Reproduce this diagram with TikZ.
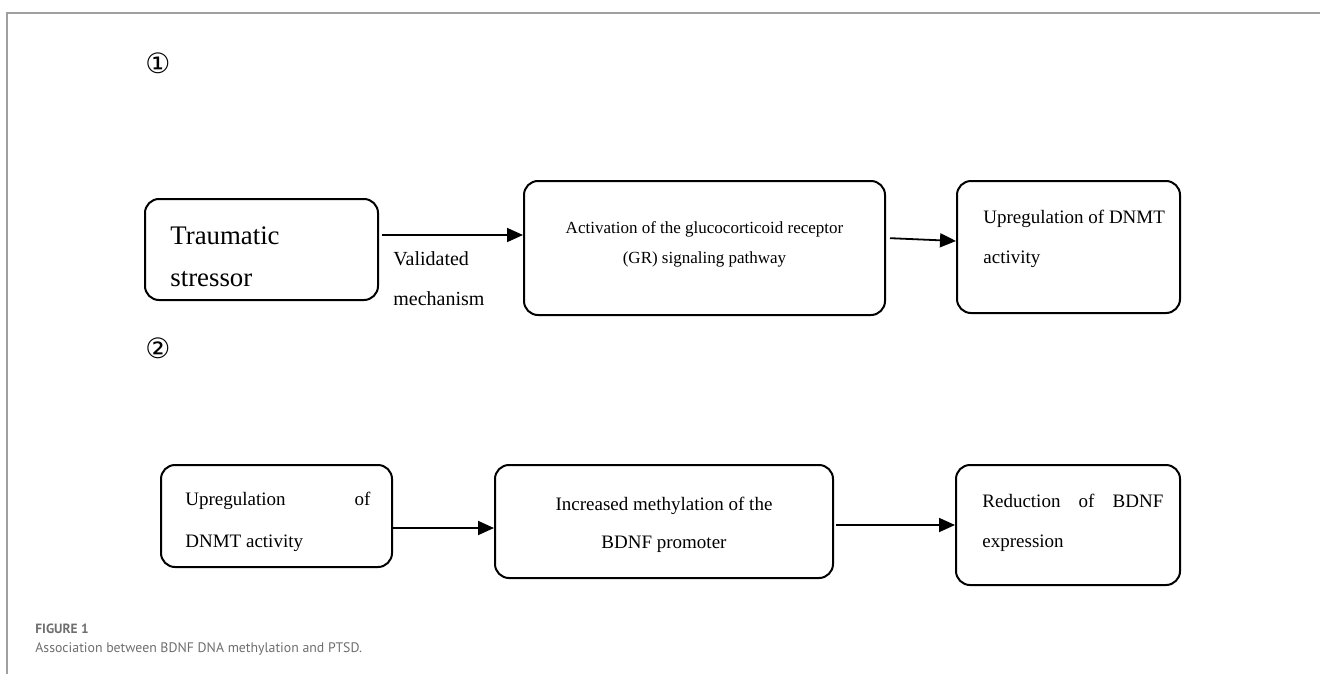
\documentclass[tikz,border=0pt]{standalone}
\usepackage{fontspec}
\setmainfont{Liberation Serif}
\newfontfamily\capfont{PT Sans}
\newfontfamily\numfont{DejaVu Sans}
\usepackage{tikz}
\usetikzlibrary{arrows.meta}
\usetikzlibrary{calc}
\definecolor{framegray}{RGB}{160,160,160}
\definecolor{capgray}{RGB}{110,110,110}

\begin{document}
\begin{tikzpicture}[x=0.5pt,y=-0.5pt,
	box/.style={draw,line width=1pt,rounded corners=7pt,inner sep=0pt},
	arr/.style={-{Triangle[length=8pt,width=7pt]},line width=0.9pt},
	txt/.style={inner sep=0pt,anchor=base west,align=left}]
	\useasboundingbox (0,0) rectangle (1320,674);
	\draw[framegray,line width=0.7pt] (7,674) -- (7,13) -- (1320,13);

	% row 1 (text nodes sit on the baseline of their last line)
	\node[font=\numfont\fontsize{14}{14}\selectfont] (stepone) at (158,63) {①};
	\node[box,minimum width=116.5pt,minimum height=50.5pt] (stressor) at (261.5,249.5) {};
	\node[box,minimum width=180.5pt,minimum height=67pt] (grpath) at (704.5,248) {};
	\node[box,minimum width=111.5pt,minimum height=66pt] (dnmtup) at (1068.5,247) {};
	\node[txt,font=\fontsize{13.4}{21}\selectfont] (stressortext) at (170,286) {Traumatic\\stressor};
	\node[txt,font=\fontsize{10}{20}\selectfont] (mechlabel) at (393,305) {Validated\\mechanism};
	\node[inner sep=0pt,anchor=base,align=center,font=\fontsize{8.5}{15}\selectfont] (grtext) at (704.5,263) {Activation of the glucocorticoid receptor\\(GR) signaling pathway};
	\node[txt,font=\fontsize{9.5}{20}\selectfont] (dnmttext) at (983,263) {Upregulation of DNMT\\activity};
	\draw[arr,shorten <=1.5pt] (stressor.east |- 0,235) -- (grpath.west |- 0,235);
	\draw[arr,shorten <=2pt] (grpath.east |- 0,238) -- (dnmtup.west |- 0,241);

	% row 2
	\node[font=\numfont\fontsize{14}{14}\selectfont] (steptwo) at (158,348) {②};
	\node[box,minimum width=115.5pt,minimum height=51pt] (dnmtupb) at (276.5,516) {};
	\node[box,minimum width=169pt,minimum height=56.5pt] (methyl) at (664,521.5) {};
	\node[box,minimum width=112pt,minimum height=60pt] (bdnfdown) at (1068,525) {};
	\node[txt,font=\fontsize{9.5}{21}\selectfont] (dnmttextb) at (185,547) {\makebox[92.5pt][s]{Upregulation of}\\DNMT activity};
	\node[inner sep=0pt,anchor=base,align=center,font=\fontsize{9.5}{19}\selectfont] (methyltext) at (664,548) {Increased methylation of the\\BDNF promoter};
	\node[txt,font=\fontsize{9.5}{20}\selectfont] (bdnftext) at (982,547) {\makebox[90.5pt][s]{Reduction of BDNF}\\expression};
	\draw[arr] (dnmtupb.east |- 0,528) -- (methyl.west |- 0,528);
	\draw[arr,shorten <=1pt] (methyl.east |- 0,525) -- (bdnfdown.west |- 0,525);

	% caption
	\node[anchor=base west,inner sep=0pt,text=capgray,font=\capfont\bfseries\fontsize{6.7}{8}\selectfont] (figlabel) at (35,633) {FIGURE 1};
	\node[anchor=base west,inner sep=0pt,text=capgray,font=\capfont\fontsize{6.9}{8}\selectfont] (figcaption) at (35,652) {Association between BDNF DNA methylation and PTSD.};
\end{tikzpicture}
\end{document}
